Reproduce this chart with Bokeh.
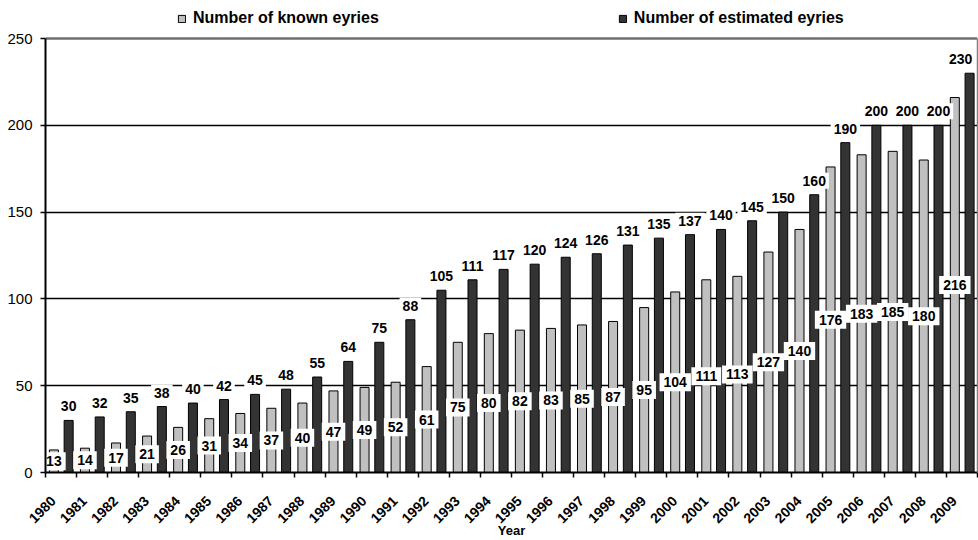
from bokeh.plotting import figure
from bokeh.models import ColumnDataSource, FixedTicker, Legend, LegendItem, Range1d, LinearAxis, Span
from bokeh.transform import dodge
from bokeh.core.properties import value
from bokeh.embed import file_html
from bokeh.resources import INLINE

years = ["1980", "1981", "1982", "1983", "1984", "1985", "1986", "1987", "1988", "1989",
         "1990", "1991", "1992", "1993", "1994", "1995", "1996", "1997", "1998", "1999",
         "2000", "2001", "2002", "2003", "2004", "2005", "2006", "2007", "2008", "2009"]
known = [13, 14, 17, 21, 26, 31, 34, 37, 40, 47,
         49, 52, 61, 75, 80, 82, 83, 85, 87, 95,
         104, 111, 113, 127, 140, 176, 183, 185, 180, 216]
estimated = [30, 32, 35, 38, 40, 42, 45, 48, 55, 64,
             75, 88, 105, 111, 117, 120, 124, 126, 131, 135,
             137, 140, 145, 150, 160, 190, 200, 200, 200, 230]
y_ticks = [0, 50, 100, 150, 200, 250]
grid_ticks = [50, 100, 150, 200]
y_max = 250

FONT = "Liberation Sans"
idx = list(range(len(years)))
# last estimated label nudged left so it stays inside the plot area (as in the original)
est_dx = [0] * (len(years) - 1) + [-9]
src = ColumnDataSource(dict(
    idx=idx,
    known=known,
    est=estimated,
    known_mid=[k / 2 for k in known],
    known_txt=[str(k) for k in known],
    est_txt=[str(e) for e in estimated],
    est_dx=est_dx,
))

# frame spans the full top of the canvas so the legend can sit above the 250 line
FRAME_H = 472
TOP_PAD = 38
y_end = y_max * FRAME_H / (FRAME_H - TOP_PAD)

p = figure(width=978, height=540, x_range=Range1d(0, len(years)), y_range=Range1d(0, y_end),
           output_backend="svg", toolbar_location=None,
           min_border_left=45, min_border_right=1, min_border_top=0, min_border_bottom=68)
p.background_fill_color = "white"
p.border_fill_color = "white"
p.outline_line_color = None

p.ygrid.ticker = FixedTicker(ticks=grid_ticks)
p.ygrid.grid_line_color = "black"
p.ygrid.grid_line_width = 1.3
p.xgrid.visible = False
p.add_layout(Span(location=y_max, dimension="width", line_color="#707070", line_width=2.5, level="underlay"))

r1 = p.vbar(x=dodge("idx", 0.27), top="known", bottom=0, width=0.29, source=src,
            fill_color="#c0c0c0", line_color="black", line_width=1)
r2 = p.vbar(x=dodge("idx", 0.745), top="est", bottom=0, width=0.29, source=src,
            fill_color="#333333", line_color="black", line_width=1)

p.text(x=dodge("idx", 0.27), y="known_mid", text="known_txt", source=src,
       text_font=value(FONT), text_font_size=value("14px"), text_font_style="bold",
       text_color="black", text_align="center", text_baseline="middle",
       background_fill_color="white", padding=4)
p.text(x=dodge("idx", 0.745), y="est", text="est_txt", source=src, y_offset=-14, x_offset="est_dx",
       text_font=value(FONT), text_font_size=value("14px"), text_font_style="bold",
       text_color="black", text_align="center", text_baseline="middle",
       background_fill_color="white", padding=3)

# x axis
xa = p.xaxis[0]
xa.ticker = FixedTicker(ticks=[i + 0.25 for i in idx], minor_ticks=list(range(len(years) + 1)))
xa.major_label_overrides = {i + 0.25: years[i] for i in idx}
xa.major_label_orientation = 0.785398
xa.major_tick_out = 0
xa.major_tick_in = 0
xa.minor_tick_out = 5
xa.minor_tick_in = 0
xa.minor_tick_line_color = "black"
xa.minor_tick_line_width = 1.5
xa.axis_line_color = "black"
xa.axis_line_width = 2
xa.major_label_standoff = 21
xa.major_label_text_font = FONT
xa.major_label_text_font_style = "bold"
xa.major_label_text_font_size = "14px"
xa.major_label_text_color = "black"
xa.axis_label = "Year"
xa.axis_label_text_font = FONT
xa.axis_label_text_font_style = "bold"
xa.axis_label_text_font_size = "13px"
xa.axis_label_text_color = "black"
xa.axis_label_standoff = -8

# y axis
ya = p.yaxis[0]
ya.ticker = FixedTicker(ticks=y_ticks)
ya.bounds = (0, y_max)
ya.major_tick_out = 5
ya.major_tick_in = 0
ya.major_tick_line_color = "black"
ya.major_tick_line_width = 1.5
ya.minor_tick_out = 0
ya.minor_tick_in = 0
ya.axis_line_color = "black"
ya.axis_line_width = 2
ya.major_label_standoff = 8
ya.major_label_text_font = FONT
ya.major_label_text_font_size = "15px"
ya.major_label_text_color = "black"

# gray right border of the plot area
ra = LinearAxis(ticker=FixedTicker(ticks=[]), bounds=(0, y_max), axis_line_color="#808080",
                axis_line_width=1.5, major_tick_out=0, major_tick_in=0, minor_tick_out=0,
                minor_tick_in=0, major_label_standoff=0, major_label_text_font_size="0px")
p.add_layout(ra, "right")

legend = Legend(items=[LegendItem(label="Number of known eyries", renderers=[r1]),
                       LegendItem(label="Number of estimated eyries", renderers=[r2])],
                orientation="horizontal", location=(132, 445), spacing=239,
                glyph_width=9, glyph_height=9, label_standoff=7, padding=0, margin=0,
                label_height=14, border_line_color=None, background_fill_alpha=0,
                label_text_font=FONT, label_text_font_style="bold",
                label_text_font_size="16px", label_text_color="black")
p.add_layout(legend, "center")

open("out.html", "w").write(file_html(p, INLINE))
